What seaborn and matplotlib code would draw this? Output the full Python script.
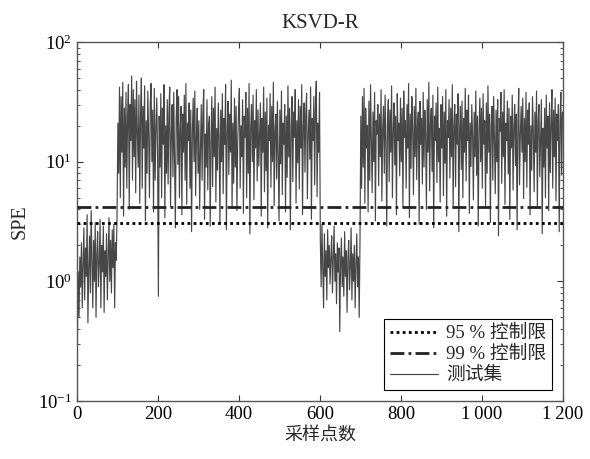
import numpy as np
import pandas as pd
import matplotlib
matplotlib.use("Agg")
import matplotlib.pyplot as plt
import seaborn as sns
from matplotlib.ticker import FixedLocator, FixedFormatter, LogLocator, NullFormatter

# ---------------- data (every 2nd sample) ----------------
seg_normal_1 = [0.35,1.2,0.5,1.6,0.9,2.1,0.6,1.4,2.8,0.7,1.9,1.1,3.6,0.45,1.3,2.4,0.8,3.9,1.5,0.6,
                2.2,1.0,3.1,0.5,1.7,2.6,0.9,1.4,3.3,0.6,2.0,1.2,2.9,0.55,1.8,1.1,2.5,0.7,1.6,3.4,
                1.0,2.2,0.8,2.7,1.3,3.0,0.6,2.1,1.5,3.8]
seg_fault_1 = [21,8,42,5,35,12,46,3.5,28,9,38,6,24,44,4,30,15,52,7,40,11,33,5.5,47,18,
               9,36,4.5,25,50,6,29,13,43,3.2,22,8,39,16,5,31,45,10,27,3.8,41,7,19,34,12,
               0.75,24,9,37,5,28,14,44,3.4,20,8,33,6.5,26,42,4.2,17,30,7.5,38,11,2.8,23,40,9.5,
               35,5,19,29,3.6,25,12,36,7,45,4.4,21,15,31,6,27,2.6,18,34,10,39,5.2,16,28,8,
               22,4,13,30,7,26,40,3.3,17,9,33,5.8,20,24,2.9,14,35,6.2,28,11,42,4.6,19,8.5,31,
               16,3.1,27,10,37,5.4,23,14,44,2.7,18,32,7.8,25,12,48,4.1,21,6.6,34,9,29,3.9,15,26,
               41,6,20,11,33,3.7,24,16,38,5,28,8,45,2.5,19,30,10,36,4.8,22,13,40,6.9,27,9.2,
               17,31,3.5,23,12,42,5.6,26,8.4,34,2.8,20,15,37,6.1,29,10,46,4.3,18,25,7.2,32,11,3.2,
               27,9.6,39,5.3,21,14,30,3.8,24,7.4,43,11,28,2.7,19,35,6.8,26,16,40,4.5,22,9.8,33,5.9,
               29,13,44,3.6,20,31,8.2,25,37,4.9,17,27,10.5,42,3.3,23,15,35,6.4,28,47,5.1,21,12,38]
seg_normal_2 = [2.2,0.9,3.0,1.4,0.6,2.5,1.1,1.8,0.7,2.7,1.3,2.0,0.95,1.6,2.4,0.8,1.5,2.9,1.0,1.7,
                0.65,2.1,1.2,1.9,0.38,1.4,2.3,0.9,1.6,0.75,2.6,1.1,1.8,0.55,1.5,2.2,0.85,1.3,2.8,0.7,
                1.7,1.0,2.0,0.6,1.4,2.5,0.9,1.6,0.5,2.3]
seg_fault_2 = [24,6,35,9,41,4.5,28,13,20,3.8,32,7,44,15,5.5,26,10,38,3.2,22,17,30,6.3,25,11,
               40,4.7,19,29,8,36,14,2.9,23,33,6.8,27,12,43,5,18,31,9.4,24,3.6,37,15,21,7.6,34,
               10,28,4.2,39,16,22,6,30,13,45,3.4,25,8.8,35,19,5.3,29,11,41,7.1,20,26,3,32,14,
               23,6.5,38,9,27,17,4,33,12,46,5.7,21,28,8.3,36,2.8,24,15,31,6.7,42,10,19,4.6,30,
               13,35,5.2,26,9.7,40,3.5,22,16,33,7.3,28,11,44,4.1,20,30,6.2,25,14,37,2.6,18,29,8.6,
               32,5,23,12,41,6.9,27,15,36,3.7,21,9.1,30,17,4.8,26,11,39,7.7,24,2.9,19,34,10,28,
               6,37,14,22,4.3,31,8,43,12,25,3.1,20,29,7,35,16,5.4,27,10,33,2.4,23,18,38,6.6,
               26,11,40,4.4,21,15,32,7.9,28,3.3,24,13,36,5.8,19,30,9.3,25,2.7,22,41,6.4,17,29,12,
               34,4.9,23,10,38,6.1,27,14,31,3.6,20,8.5,35,18,5.6,26,12,39,4.2,22,30,7.5,16,33,2.5,
               19,9,28,5,36,13,24,3.9,31,8.1,21,40,6,27,11,34,4.7,25,15,30,2.6,22,38,7.7,26]

limit_95 = 3.05
limit_99 = 4.15
x_ticks = [0, 200, 400, 600, 800, 1000, 1200]
x_tick_labels = ["0", "200", "400", "600", "800", "1\u2009000", "1\u2009200"]
title = "KSVD-R"
x_label = "采样点数"
y_label = "SPE"
legend_labels = ["95 % 控制限", "99 % 控制限", "测试集"]

spe = np.array(seg_normal_1 + seg_fault_1 + seg_normal_2 + seg_fault_2, dtype=float)
sample = np.arange(1, 2 * len(spe), 2)
df = pd.DataFrame({"sample": sample, "SPE": spe})

# ---------------- style ----------------
sns.set_theme(style="white")
serif = ["Liberation Serif", "DejaVu Serif"]
mixed = ["Liberation Serif", "Noto Sans CJK SC", "DejaVu Sans"]
cjk = ["Noto Sans CJK SC", "DejaVu Sans"]
plt.rcParams["font.family"] = serif
plt.rcParams["mathtext.fontset"] = "stix"

fig = plt.figure(figsize=(5.9, 4.59), dpi=100)
ax = fig.add_axes([0.1305, 0.1264, 0.8235, 0.782])

l95 = ax.axhline(limit_95, color="black", lw=2.0, linestyle=(0, (1, 1.2)), zorder=3)
l99 = ax.axhline(limit_99, color="#222222", lw=2.0, linestyle=(0, (5, 1.5, 1, 1.5)), zorder=3)
sns.lineplot(data=df, x="sample", y="SPE", ax=ax, color="#474747", lw=0.85, zorder=2)
data_line = ax.get_lines()[-1]

ax.set_yscale("log")
ax.set_xlim(0, 1200)
ax.set_ylim(0.1, 100)

ax.xaxis.set_major_locator(FixedLocator(x_ticks))
ax.xaxis.set_major_formatter(FixedFormatter(x_tick_labels))
ax.yaxis.set_major_locator(LogLocator(base=10, numticks=10))
ax.yaxis.set_minor_locator(LogLocator(base=10, subs=np.arange(2, 10), numticks=10))
ax.yaxis.set_minor_formatter(NullFormatter())

ax.tick_params(which="both", direction="in", top=True, right=True, bottom=True, left=True,
               colors="#333333", labelcolor="black", labelsize=13.5)
ax.tick_params(which="major", length=4, width=0.8)
ax.tick_params(which="minor", length=2.5, width=0.6)
for sp in ax.spines.values():
    sp.set_color("#555555")
    sp.set_linewidth(1.0)

ax.set_title(title, fontsize=15, family=serif, pad=10)
ax.set_xlabel(x_label, fontsize=13, family=cjk, labelpad=3)
ax.set_ylabel(y_label, fontsize=14.5, family=serif, labelpad=6)

leg = ax.legend([l95, l99, data_line], legend_labels, loc="lower right",
                prop={"family": mixed, "size": 13.5}, frameon=True, fancybox=False,
                edgecolor="black", framealpha=1, handlelength=2.6, borderpad=0.3,
                labelspacing=0.2, handletextpad=0.4, borderaxespad=0.6)
leg.get_frame().set_linewidth(0.8)

fig.savefig("out.png", dpi=100)
